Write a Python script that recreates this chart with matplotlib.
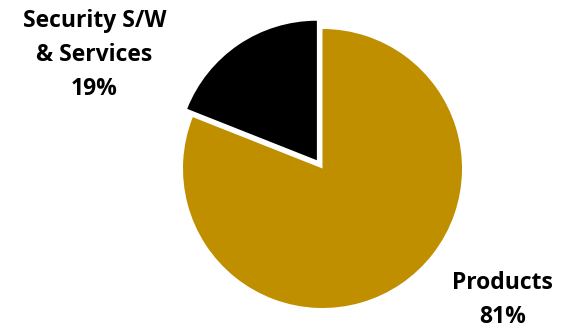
import matplotlib

matplotlib.use("Agg")
import matplotlib.pyplot as plt

labels = ["Security S/W\n& Services", "Products"]
shares = [19, 81]
colors = ["#000000", "#BF8F00"]
explode = [10.0, 0.0]

W, H = 567, 329

fig = plt.figure(figsize=(W / 100, H / 100), dpi=100)
ax = fig.add_axes([0, 0, 1, 1])
ax.pie(
    shares,
    colors=colors,
    explode=explode,
    startangle=90,
    counterclock=True,
    radius=139.5,
    center=(322.5, H - 168.5),
    wedgeprops={"linewidth": 0},
)
ax.set_xlim(0, W)
ax.set_ylim(0, H)
ax.set_aspect("equal")
ax.axis("off")

font = dict(family=["Open Sans", "DejaVu Sans"], weight="bold", fontsize=16.5,
            ha="center", va="center", linespacing=1.55, color="black")
ax.text(94.5, H - 55, f"{labels[0]}\n{shares[0]}%", **font)
ax.text(502.5, H - 300, f"{labels[1]}\n{shares[1]}%", **font)

fig.savefig("out.png", dpi=100)
